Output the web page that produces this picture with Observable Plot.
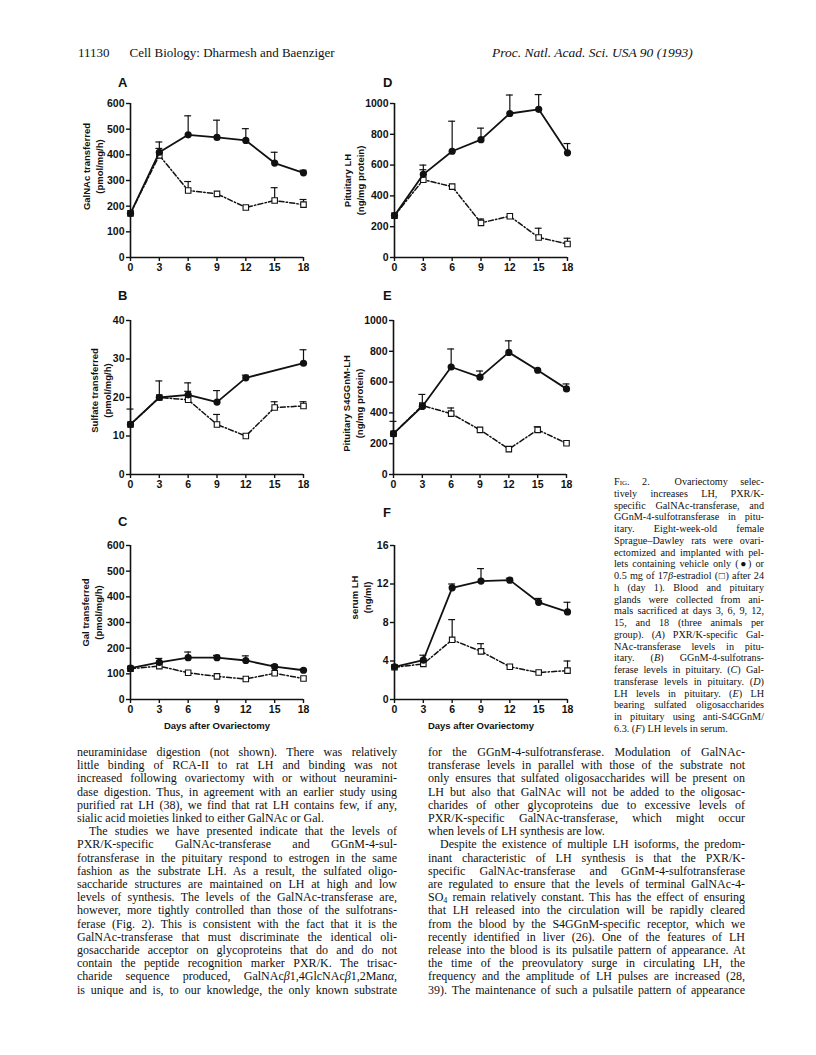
<!DOCTYPE html>
<html>
<head>
<meta charset="utf-8">
<script src="https://cdn.jsdelivr.net/npm/d3@7"></script>
<script src="https://cdn.jsdelivr.net/npm/@observablehq/plot@0.6"></script>
<style>
  html, body { margin: 0; padding: 0; background: #fff; }
  body { width: 816px; height: 1055px; position: relative; overflow: hidden; color: #111; }
  .abs { position: absolute; }
  .serif { font-family: "Liberation Serif", "DejaVu Serif", serif; }
  .letter { position: absolute; font-family: "Liberation Sans", Arial, sans-serif; font-weight: bold; font-size: 13px; line-height: 13px; }
  .col { position: absolute; font-family: "Liberation Serif", serif; font-size: 12px; line-height: 13.2px; }
  .col div, .cap div { white-space: nowrap; text-align: justify; text-align-last: justify; }
  .col div.last, .cap div.last { text-align-last: left; }
  .col div.ind { text-indent: 12px; }
  .cap { position: absolute; font-family: "Liberation Serif", serif; font-size: 10.2px; line-height: 11.75px; }
  .panel { position: absolute; }
</style>
</head>
<body>
<script>
// ---------------- data ----------------
const days = [0, 3, 6, 9, 12, 15, 18];

// A: GalNAc transferred (pmol/mg/h)
const aVehicle    = [172, 410, 478, 468, 456, 368, 330];
const aVehicleErr = [null, 450, 552, 535, 502, 410, 340];
const aEstradiol    = [172, 398, 261, 248, 195, 222, 206];
const aEstradiolErr = [null, 425, 296, null, null, 272, 226];
const aTicks = [0, 100, 200, 300, 400, 500, 600];

// B: Sulfate transferred (pmol/mg/h)
const bVehicle    = [13, 20, 20.7, 18.8, 25.1, null, 28.9];
const bVehicleErr = [17, 24.3, 23.8, 21.8, 25.8, null, 32.4];
const bEstradiol    = [13, 20, 19.4, 13, 10, 17.4, 17.8];
const bEstradiolErr = [null, null, 21.6, 15.6, null, 18.9, 18.9];
const bTicks = [0, 10, 20, 30, 40];

// C: Gal transferred (pmol/mg/h)
const cVehicle    = [122, 145, 163, 163, 152, 128, 114];
const cVehicleErr = [null, 160, 185, 172, 170, 135, 118];
const cEstradiol    = [120, 130, 104, 90, 80, 102, 82];
const cEstradiolErr = [null, null, null, null, null, null, null];
const cTicks = [0, 100, 200, 300, 400, 500, 600];

// D: Pituitary LH (ng/mg protein)
const dVehicle    = [272, 540, 690, 765, 935, 962, 680];
const dVehicleErr = [null, 600, 885, 840, 1055, 1058, 740];
const dEstradiol    = [272, 505, 460, 225, 268, 130, 88];
const dEstradiolErr = [null, 570, null, 250, null, 190, 125];
const dTicks = [0, 200, 400, 600, 800, 1000];

// E: Pituitary S4GGnM-LH (ng/mg protein)
const eVehicle    = [265, 442, 698, 632, 793, 677, 556];
const eVehicleErr = [345, 520, 815, 672, 868, 688, 588];
const eEstradiol    = [265, 448, 395, 290, 165, 290, 203];
const eEstradiolErr = [null, null, 432, 300, null, 310, 212];
const eTicks = [0, 200, 400, 600, 800, 1000];

// F: serum LH (ng/ml)
const fVehicle    = [3.4, 4.1, 11.6, 12.3, 12.4, 10.1, 9.1];
const fVehicleErr = [null, 4.6, 12.0, 13.6, 12.6, 10.5, 10.1];
const fEstradiol    = [3.35, 3.7, 6.2, 5.0, 3.4, 2.8, 3.0];
const fEstradiolErr = [null, null, 8.3, 5.8, null, null, 4.0];
const fTicks = [0, 4, 8, 12, 16];

const xTitle = "Days after Ovariectomy";

// ---------------- drawing ----------------
const FW = 173, FH = 154, ML = 70, MT = 25, MR = 14, MB = 40;

function panel(cfg) {
  const rows = days.map((d, i) => ({day: d, veh: cfg.veh[i], vehErr: cfg.vehErr[i], est: cfg.est[i], estErr: cfg.estErr[i]}));
  const vehPts = rows.filter(r => r.veh != null);
  const estPts = rows.filter(r => r.est != null);
  const errs = [
    ...rows.filter(r => r.vehErr != null).map(r => ({day: r.day, v: r.veh, e: r.vehErr})),
    ...rows.filter(r => r.estErr != null).map(r => ({day: r.day, v: r.est, e: r.estErr}))
  ];
  const marks = [
    Plot.ruleX(errs, {x: "day", y1: "v", y2: "e", stroke: "#111", strokeWidth: 1.2}),
    Plot.ruleY(errs, {x1: d => d.day - 0.36, x2: d => d.day + 0.36, y: "e", stroke: "#111", strokeWidth: 1.2}),
    Plot.ruleX([0], {stroke: "#111", strokeWidth: 1.6}),
    Plot.ruleY([0], {stroke: "#111", strokeWidth: 1.6}),
    Plot.axisY({ticks: cfg.ticks, tickFormat: d => String(d), tickSize: 4, tickPadding: 2, label: null, strokeWidth: 1.4}),
    Plot.axisX({ticks: days, tickFormat: d => String(d), tickSize: 4, tickPadding: 2, label: null, strokeWidth: 1.4}),
    Plot.line(estPts, {x: "day", y: "est", stroke: "#111", strokeWidth: 1.5, strokeDasharray: "5,2.2,1.4,2.2"}),
    Plot.dot(estPts, {x: "day", y: "est", symbol: "square", r: 3.1, fill: "white", stroke: "#111", strokeWidth: 1.1}),
    Plot.line(vehPts, {x: "day", y: "veh", stroke: "#111", strokeWidth: 1.8}),
    Plot.dot(vehPts, {x: "day", y: "veh", r: 3.6, fill: "#111", stroke: "none"}),
    Plot.text([cfg.label], {frameAnchor: "left", textAnchor: "middle", lineAnchor: "middle", rotate: -90, dx: cfg.ldx, dy: cfg.ldy, lineHeight: 1.35, fontSize: 9.5, fontWeight: "bold", fill: "#111"})
  ];
  if (cfg.xTitle) {
    marks.push(Plot.text([cfg.xTitle], {frameAnchor: "bottom", dy: 29, fontSize: 9.5, fontWeight: "bold", fill: "#111"}));
  }
  const svg = Plot.plot({
    width: ML + FW + MR,
    height: MT + FH + MB,
    marginLeft: ML, marginTop: MT, marginRight: MR, marginBottom: MB,
    x: {domain: [0, 18]},
    y: {domain: [cfg.ticks[0], cfg.ticks[cfg.ticks.length - 1]]},
    style: {fontFamily: "'Liberation Sans', Arial, sans-serif", fontSize: "10.5px", fontWeight: "bold", color: "#111", background: "transparent", overflow: "visible"},
    marks
  });
  const wrap = document.createElement("div");
  wrap.className = "panel";
  wrap.style.left = (cfg.fx - ML) + "px";
  wrap.style.top = (cfg.fy - MT) + "px";
  wrap.appendChild(svg);
  document.body.appendChild(wrap);
  const L = document.createElement("div");
  L.className = "letter";
  L.textContent = cfg.letter;
  L.style.left = cfg.lx + "px";
  L.style.top = cfg.ly + "px";
  document.body.appendChild(L);
}

panel({letter: "A", lx: 118, ly: 76, fx: 130, fy: 103, ldx: -38, ldy: -14, veh: aVehicle, vehErr: aVehicleErr, est: aEstradiol, estErr: aEstradiolErr, ticks: aTicks, label: "GalNAc transferred\n(pmol/mg/h)"});
panel({letter: "B", lx: 118, ly: 289, fx: 130, fy: 320, ldx: -30, ldy: -7, veh: bVehicle, vehErr: bVehicleErr, est: bEstradiol, estErr: bEstradiolErr, ticks: bTicks, label: "Sulfate transferred\n(pmol/mg/h)"});
panel({letter: "C", lx: 118, ly: 515, fx: 130, fy: 545, ldx: -39, ldy: -10, veh: cVehicle, vehErr: cVehicleErr, est: cEstradiol, estErr: cEstradiolErr, ticks: cTicks, label: "Gal transferred\n(pmol/mg/h)", xTitle});
panel({letter: "D", lx: 383, ly: 76, fx: 394, fy: 103, ldx: -41, ldy: 0, veh: dVehicle, vehErr: dVehicleErr, est: dEstradiol, estErr: dEstradiolErr, ticks: dTicks, label: "Pituitary LH\n(ng/mg protein)"});
panel({letter: "E", lx: 383, ly: 289, fx: 393, fy: 320, ldx: -41, ldy: 6, veh: eVehicle, vehErr: eVehicleErr, est: eEstradiol, estErr: eEstradiolErr, ticks: eTicks, label: "Pituitary S4GGnM-LH\n(ng/mg protein)"});
panel({letter: "F", lx: 383, ly: 506, fx: 394, fy: 545, ldx: -34, ldy: -25, veh: fVehicle, vehErr: fVehicleErr, est: fEstradiol, estErr: fEstradiolErr, ticks: fTicks, label: "serum LH\n(ng/ml)", xTitle});
</script>

<div class="abs serif" style="left:78px; top:45px; font-size:13px; white-space:nowrap;">11130<span style="display:inline-block; width:20px"></span>Cell Biology: Dharmesh and Baenziger</div>
<div class="abs serif" style="left:492px; top:45px; font-size:13.5px; font-style:italic; white-space:nowrap;">Proc. Natl. Acad. Sci. USA 90 (1993)</div>

<div class="cap" style="left:614px; top:476px; width:150px;">
<div><span style="font-variant:small-caps">Fig.</span> 2.&nbsp; Ovariectomy selec-</div>
<div>tively increases LH, PXR/K-</div>
<div>specific GalNAc-transferase, and</div>
<div>GGnM-4-sulfotransferase in pitu-</div>
<div>itary. Eight-week-old female</div>
<div>Sprague–Dawley rats were ovari-</div>
<div>ectomized and implanted with pel-</div>
<div>lets containing vehicle only (●) or</div>
<div>0.5 mg of 17<i>β</i>-estradiol (□) after 24</div>
<div>h (day 1). Blood and pituitary</div>
<div>glands were collected from ani-</div>
<div>mals sacrificed at days 3, 6, 9, 12,</div>
<div>15, and 18 (three animals per</div>
<div>group). (<i>A</i>) PXR/K-specific Gal-</div>
<div>NAc-transferase levels in pitu-</div>
<div>itary. (<i>B</i>) GGnM-4-sulfotrans-</div>
<div>ferase levels in pituitary. (<i>C</i>) Gal-</div>
<div>transferase levels in pituitary. (<i>D</i>)</div>
<div>LH levels in pituitary. (<i>E</i>) LH</div>
<div>bearing sulfated oligosaccharides</div>
<div>in pituitary using anti-S4GGnM/</div>
<div class="last">6.3. (<i>F</i>) LH levels in serum.</div>
</div>

<div class="col" style="left:77px; top:746px; width:320px;">
<div>neuraminidase digestion (not shown). There was relatively</div>
<div>little binding of RCA-II to rat LH and binding was not</div>
<div>increased following ovariectomy with or without neuramini-</div>
<div>dase digestion. Thus, in agreement with an earlier study using</div>
<div>purified rat LH (38), we find that rat LH contains few, if any,</div>
<div class="last">sialic acid moieties linked to either GalNAc or Gal.</div>
<div class="ind">The studies we have presented indicate that the levels of</div>
<div>PXR/K-specific GalNAc-transferase and GGnM-4-sul-</div>
<div>fotransferase in the pituitary respond to estrogen in the same</div>
<div>fashion as the substrate LH. As a result, the sulfated oligo-</div>
<div>saccharide structures are maintained on LH at high and low</div>
<div>levels of synthesis. The levels of the GalNAc-transferase are,</div>
<div>however, more tightly controlled than those of the sulfotrans-</div>
<div>ferase (Fig. 2). This is consistent with the fact that it is the</div>
<div>GalNAc-transferase that must discriminate the identical oli-</div>
<div>gosaccharide acceptor on glycoproteins that do and do not</div>
<div>contain the peptide recognition marker PXR/K. The trisac-</div>
<div>charide sequence produced, GalNAc<i>β</i>1,4GlcNAc<i>β</i>1,2Man<i>α</i>,</div>
<div>is unique and is, to our knowledge, the only known substrate</div>
</div>

<div class="col" style="left:428px; top:746px; width:317px;">
<div>for the GGnM-4-sulfotransferase. Modulation of GalNAc-</div>
<div>transferase levels in parallel with those of the substrate not</div>
<div>only ensures that sulfated oligosaccharides will be present on</div>
<div>LH but also that GalNAc will not be added to the oligosac-</div>
<div>charides of other glycoproteins due to excessive levels of</div>
<div>PXR/K-specific GalNAc-transferase, which might occur</div>
<div class="last">when levels of LH synthesis are low.</div>
<div class="ind">Despite the existence of multiple LH isoforms, the predom-</div>
<div>inant characteristic of LH synthesis is that the PXR/K-</div>
<div>specific GalNAc-transferase and GGnM-4-sulfotransferase</div>
<div>are regulated to ensure that the levels of terminal GalNAc-4-</div>
<div>SO<sub style="font-size:8px; vertical-align:-2px; line-height:0">4</sub> remain relatively constant. This has the effect of ensuring</div>
<div>that LH released into the circulation will be rapidly cleared</div>
<div>from the blood by the S4GGnM-specific receptor, which we</div>
<div>recently identified in liver (26). One of the features of LH</div>
<div>release into the blood is its pulsatile pattern of appearance. At</div>
<div>the time of the preovulatory surge in circulating LH, the</div>
<div>frequency and the amplitude of LH pulses are increased (28,</div>
<div>39). The maintenance of such a pulsatile pattern of appearance</div>
</div>
</body>
</html>
